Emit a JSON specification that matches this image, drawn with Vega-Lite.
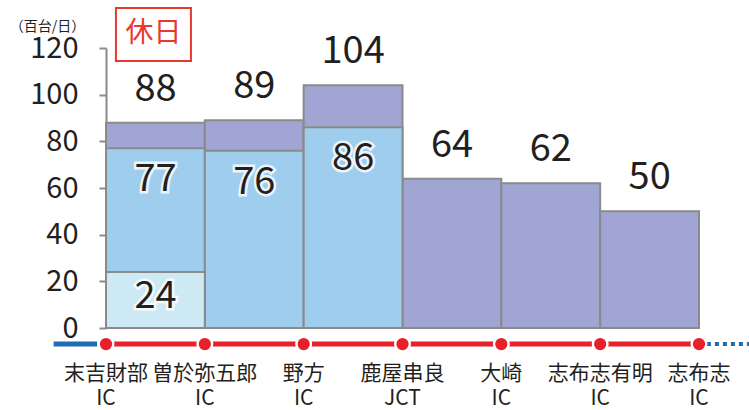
{
  "$schema": "https://vega.github.io/schema/vega-lite/v6.json",
  "width": 593,
  "height": 280,
  "autosize": "none",
  "padding": {"left": 106, "top": 48, "right": 50, "bottom": 82},
  "background": "white",
  "config": {
    "view": {"stroke": null},
    "font": "Noto Sans CJK JP",
    "axis": {
      "titleAngle": 0,
      "titleAlign": "center",
      "titleBaseline": "middle",
      "titleX": -59,
      "titleY": -22,
      "titleFontSize": 14,
      "titleFontWeight": "normal",
      "titleColor": "#231f20",
      "labelFontSize": 29,
      "labelColor": "#231f20",
      "labelPadding": 21,
      "tickSize": 7,
      "tickWidth": 2,
      "tickColor": "#8a8a8a",
      "domainColor": "#8a8a8a",
      "domainWidth": 2,
      "grid": false
    }
  },
  "datasets": {
    "stations": [
      {"i": 0, "name": "末吉財部", "kind": "IC"},
      {"i": 1, "name": "曽於弥五郎", "kind": "IC"},
      {"i": 2, "name": "野方", "kind": "IC"},
      {"i": 3, "name": "鹿屋串良", "kind": "JCT"},
      {"i": 4, "name": "大崎", "kind": "IC"},
      {"i": 5, "name": "志布志有明", "kind": "IC"},
      {"i": 6, "name": "志布志", "kind": "IC"}
    ]
  },
  "data": {
    "values": [
      {"a": 0, "b": 1, "layer": "total", "v": 88},
      {"a": 1, "b": 2, "layer": "total", "v": 89},
      {"a": 2, "b": 3, "layer": "total", "v": 104},
      {"a": 3, "b": 4, "layer": "total", "v": 64},
      {"a": 4, "b": 5, "layer": "total", "v": 62},
      {"a": 5, "b": 6, "layer": "total", "v": 50},
      {"a": 0, "b": 1, "layer": "mid", "v": 77},
      {"a": 1, "b": 2, "layer": "mid", "v": 76},
      {"a": 2, "b": 3, "layer": "mid", "v": 86},
      {"a": 0, "b": 1, "layer": "low", "v": 24}
    ]
  },
  "layer": [
    {
      "mark": {"type": "rect", "stroke": "#8a8a8a", "strokeWidth": 2},
      "encoding": {
        "x": {"field": "a", "type": "quantitative", "scale": {"domain": [0, 6], "nice": false}, "axis": null},
        "x2": {"field": "b"},
        "y": {"field": "v", "type": "quantitative", "scale": {"domain": [0, 120], "nice": false}, "axis": {"values": [0, 20, 40, 60, 80, 100, 120], "title": "（百台/日）", "labelFontSize": 29}},
        "y2": {"datum": 0},
        "color": {
          "field": "layer",
          "type": "nominal",
          "scale": {"domain": ["total", "mid", "low"], "range": ["#a0a5d3", "#9ecdee", "#cdeaf4"]},
          "legend": null
        }
      }
    },
    {
      "transform": [{"filter": "datum.layer == 'total'"}],
      "mark": {"type": "text", "fontSize": 38, "color": "#231f20", "dx": 49.5, "dy": -33, "baseline": "middle", "align": "center"},
      "encoding": {
        "x": {"field": "a", "type": "quantitative", "scale": {"domain": [0, 6], "nice": false}, "axis": null},
        "y": {"field": "v", "type": "quantitative", "scale": {"domain": [0, 120], "nice": false}, "axis": {"values": [0, 20, 40, 60, 80, 100, 120], "title": "（百台/日）", "labelFontSize": 29}},
        "text": {"field": "v", "type": "quantitative"}
      }
    },
    {
      "transform": [{"filter": "datum.layer == 'mid'"}],
      "mark": {"type": "text", "fontSize": 38, "color": "white", "stroke": "white", "strokeWidth": 5, "strokeOpacity": 0.8, "dx": 49.5, "dy": 32, "baseline": "middle", "align": "center"},
      "encoding": {
        "x": {"field": "a", "type": "quantitative", "scale": {"domain": [0, 6], "nice": false}, "axis": null},
        "y": {"field": "v", "type": "quantitative", "scale": {"domain": [0, 120], "nice": false}, "axis": {"values": [0, 20, 40, 60, 80, 100, 120], "title": "（百台/日）", "labelFontSize": 29}},
        "text": {"field": "v", "type": "quantitative"}
      }
    },
    {
      "transform": [{"filter": "datum.layer == 'mid'"}],
      "mark": {"type": "text", "fontSize": 38, "color": "#231f20", "dx": 49.5, "dy": 32, "baseline": "middle", "align": "center"},
      "encoding": {
        "x": {"field": "a", "type": "quantitative", "scale": {"domain": [0, 6], "nice": false}, "axis": null},
        "y": {"field": "v", "type": "quantitative", "scale": {"domain": [0, 120], "nice": false}, "axis": {"values": [0, 20, 40, 60, 80, 100, 120], "title": "（百台/日）", "labelFontSize": 29}},
        "text": {"field": "v", "type": "quantitative"}
      }
    },
    {
      "transform": [{"filter": "datum.layer == 'low'"}],
      "mark": {"type": "text", "fontSize": 38, "color": "white", "stroke": "white", "strokeWidth": 5, "strokeOpacity": 0.8, "dx": 49.5, "dy": 25, "baseline": "middle", "align": "center"},
      "encoding": {
        "x": {"field": "a", "type": "quantitative", "scale": {"domain": [0, 6], "nice": false}, "axis": null},
        "y": {"field": "v", "type": "quantitative", "scale": {"domain": [0, 120], "nice": false}, "axis": {"values": [0, 20, 40, 60, 80, 100, 120], "title": "（百台/日）", "labelFontSize": 29}},
        "text": {"field": "v", "type": "quantitative"}
      }
    },
    {
      "transform": [{"filter": "datum.layer == 'low'"}],
      "mark": {"type": "text", "fontSize": 38, "color": "#231f20", "dx": 49.5, "dy": 25, "baseline": "middle", "align": "center"},
      "encoding": {
        "x": {"field": "a", "type": "quantitative", "scale": {"domain": [0, 6], "nice": false}, "axis": null},
        "y": {"field": "v", "type": "quantitative", "scale": {"domain": [0, 120], "nice": false}, "axis": {"values": [0, 20, 40, 60, 80, 100, 120], "title": "（百台/日）", "labelFontSize": 29}},
        "text": {"field": "v", "type": "quantitative"}
      }
    },
    {
      "data": {"values": [{"part": "road"}]},
      "mark": {"type": "rule", "color": "#e8202a", "strokeWidth": 5},
      "encoding": {
        "x": {"datum": 0, "type": "quantitative", "scale": {"domain": [0, 6], "nice": false}, "axis": null},
        "x2": {"datum": 6},
        "y": {"datum": -6.9, "type": "quantitative", "scale": {"domain": [0, 120], "nice": false}, "axis": {"values": [0, 20, 40, 60, 80, 100, 120], "title": "（百台/日）", "labelFontSize": 29}}
      }
    },
    {
      "data": {"values": [{"part": "west"}]},
      "mark": {"type": "rule", "color": "#1d6db3", "strokeWidth": 5},
      "encoding": {
        "x": {"datum": -0.53, "type": "quantitative", "scale": {"domain": [0, 6], "nice": false}, "axis": null},
        "x2": {"datum": -0.09},
        "y": {"datum": -6.9, "type": "quantitative", "scale": {"domain": [0, 120], "nice": false}, "axis": {"values": [0, 20, 40, 60, 80, 100, 120], "title": "（百台/日）", "labelFontSize": 29}}
      }
    },
    {
      "data": {"values": [{"part": "east"}]},
      "mark": {"type": "rule", "color": "#1d6db3", "strokeWidth": 4, "strokeDash": [4, 4]},
      "encoding": {
        "x": {"datum": 6.08, "type": "quantitative", "scale": {"domain": [0, 6], "nice": false}, "axis": null},
        "x2": {"datum": 6.52},
        "y": {"datum": -6.9, "type": "quantitative", "scale": {"domain": [0, 120], "nice": false}, "axis": {"values": [0, 20, 40, 60, 80, 100, 120], "title": "（百台/日）", "labelFontSize": 29}}
      }
    },
    {
      "data": {"name": "stations"},
      "mark": {"type": "circle", "color": "white", "opacity": 1, "size": 289},
      "encoding": {
        "x": {"field": "i", "type": "quantitative", "scale": {"domain": [0, 6], "nice": false}, "axis": null},
        "y": {"datum": -6.9, "type": "quantitative", "scale": {"domain": [0, 120], "nice": false}, "axis": {"values": [0, 20, 40, 60, 80, 100, 120], "title": "（百台/日）", "labelFontSize": 29}}
      }
    },
    {
      "data": {"name": "stations"},
      "mark": {"type": "circle", "color": "#e8202a", "opacity": 1, "size": 150},
      "encoding": {
        "x": {"field": "i", "type": "quantitative", "scale": {"domain": [0, 6], "nice": false}, "axis": null},
        "y": {"datum": -6.9, "type": "quantitative", "scale": {"domain": [0, 120], "nice": false}, "axis": {"values": [0, 20, 40, 60, 80, 100, 120], "title": "（百台/日）", "labelFontSize": 29}}
      }
    },
    {
      "data": {"name": "stations"},
      "mark": {"type": "text", "fontSize": 21, "color": "#231f20", "baseline": "middle", "align": "center"},
      "encoding": {
        "x": {"field": "i", "type": "quantitative", "scale": {"domain": [0, 6], "nice": false}, "axis": null},
        "y": {"datum": -19.7, "type": "quantitative", "scale": {"domain": [0, 120], "nice": false}, "axis": {"values": [0, 20, 40, 60, 80, 100, 120], "title": "（百台/日）", "labelFontSize": 29}},
        "text": {"field": "name", "type": "nominal"}
      }
    },
    {
      "data": {"name": "stations"},
      "mark": {"type": "text", "fontSize": 21, "color": "#231f20", "baseline": "middle", "align": "center"},
      "encoding": {
        "x": {"field": "i", "type": "quantitative", "scale": {"domain": [0, 6], "nice": false}, "axis": null},
        "y": {"datum": -30.4, "type": "quantitative", "scale": {"domain": [0, 120], "nice": false}, "axis": {"values": [0, 20, 40, 60, 80, 100, 120], "title": "（百台/日）", "labelFontSize": 29}},
        "text": {"field": "kind", "type": "nominal"}
      }
    },
    {
      "data": {"values": [{"label": "休日"}]},
      "mark": {"type": "point", "shape": "M-1,-0.7067L1,-0.7067L1,0.7067L-1,0.7067Z", "size": 5625, "filled": false, "stroke": "#e8392f", "strokeWidth": 2, "fill": "white", "fillOpacity": 1, "opacity": 1},
      "encoding": {
        "x": {"datum": 0.48, "type": "quantitative", "scale": {"domain": [0, 6], "nice": false}, "axis": null},
        "y": {"datum": 125.8, "type": "quantitative", "scale": {"domain": [0, 120], "nice": false}, "axis": {"values": [0, 20, 40, 60, 80, 100, 120], "title": "（百台/日）", "labelFontSize": 29}}
      }
    },
    {
      "data": {"values": [{"label": "休日"}]},
      "mark": {"type": "text", "fontSize": 28, "color": "#e8392f", "baseline": "middle", "align": "center"},
      "encoding": {
        "x": {"datum": 0.48, "type": "quantitative", "scale": {"domain": [0, 6], "nice": false}, "axis": null},
        "y": {"datum": 125.8, "type": "quantitative", "scale": {"domain": [0, 120], "nice": false}, "axis": {"values": [0, 20, 40, 60, 80, 100, 120], "title": "（百台/日）", "labelFontSize": 29}},
        "text": {"field": "label", "type": "nominal"}
      }
    }
  ]
}
